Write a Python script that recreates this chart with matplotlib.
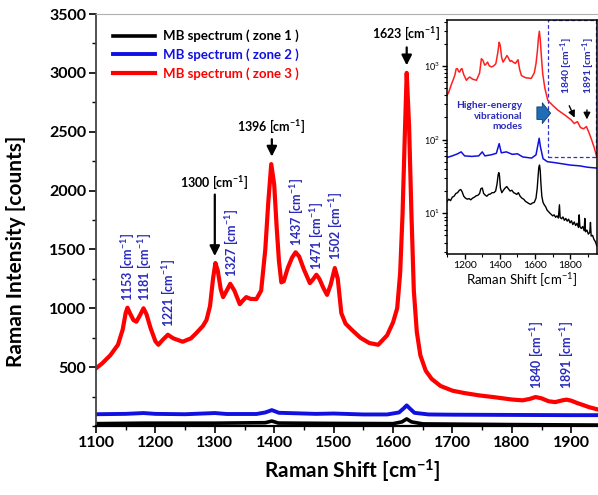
import matplotlib
matplotlib.use("Agg")
import matplotlib.pyplot as plt
from matplotlib.ticker import MultipleLocator, LogLocator, NullFormatter
from matplotlib.patches import Rectangle

plt.rcParams['font.family'] = ['Lato', 'DejaVu Sans']
plt.rcParams['mathtext.fontset'] = 'custom'
plt.rcParams['mathtext.rm'] = 'Lato'
plt.rcParams['mathtext.bf'] = 'Lato:bold'
plt.rcParams['mathtext.it'] = 'Lato:italic'

# ---------------- main plot data ----------------
red_x = [1100, 1110, 1124, 1137, 1145, 1150, 1153, 1157, 1163, 1168, 1174, 1180, 1185, 1192, 1200,
         1205, 1212, 1221, 1230, 1246, 1260, 1269, 1280, 1286, 1292, 1297, 1301, 1305, 1310, 1314,
         1320, 1326, 1333, 1342, 1348, 1353, 1360, 1370, 1378, 1385, 1390, 1395, 1400, 1404, 1408,
         1412, 1416, 1423, 1430, 1436, 1442, 1450, 1460, 1466, 1471, 1476, 1483, 1489, 1495, 1502,
         1507, 1513, 1520, 1531, 1545, 1560, 1575, 1590, 1600, 1607, 1612, 1616, 1620, 1623, 1627,
         1631, 1635, 1640, 1646, 1655, 1665, 1680, 1700, 1720, 1745, 1770, 1800, 1818, 1830, 1840,
         1850, 1862, 1873, 1885, 1892, 1900, 1910, 1920, 1930, 1945]
red_y = [490, 530, 600, 690, 820, 960, 1005, 960, 900, 886, 940, 1000, 950, 830, 720,
         690, 730, 775, 745, 716, 745, 790, 850, 900, 1020, 1250, 1385, 1320, 1160, 1095,
         1150, 1208, 1150, 1035, 1070, 1095, 1080, 1078, 1150, 1500, 1900, 2225, 2050, 1700, 1400,
         1220, 1230, 1345, 1430, 1476, 1440, 1330, 1214, 1250, 1285, 1250, 1170, 1114, 1200, 1342,
         1250, 958, 870, 815, 750, 705, 690, 770, 880, 1000, 1300, 1800, 2500, 3000, 2550,
         1800, 1150, 800, 600, 470, 400, 340, 300, 280, 260, 245, 225, 218, 230, 246,
         235, 210, 203, 218, 224, 215, 195, 178, 160, 140]

blue_x = [1100, 1150, 1180, 1200, 1250, 1300, 1320, 1370, 1385, 1396, 1408, 1437, 1470, 1500, 1550,
          1590, 1610, 1618, 1623, 1628, 1636, 1660, 1700, 1800, 1900, 1945]
blue_y = [100, 103, 110, 103, 100, 110, 102, 102, 115, 135, 112, 108, 103, 106, 98,
          98, 115, 150, 175, 150, 112, 98, 96, 94, 92, 92]

black_x = [1100, 1180, 1300, 1385, 1396, 1407, 1500, 1600, 1615, 1623, 1631, 1650, 1800, 1945]
black_y = [20, 24, 24, 28, 42, 25, 22, 20, 35, 60, 35, 18, 12, 8]

legend_labels = ['MB spectrum ( zone 1 )', 'MB spectrum ( zone 2 )', 'MB spectrum ( zone 3 )']
blue_peak_labels = [1153, 1181, 1221, 1327, 1437, 1471, 1502, 1840, 1891]
blue_peak_label_y = [1065, 1060, 845, 1270, 1527, 1328, 1413, 318, 318]
black_peaks = [1300, 1396, 1623]

# ---------------- inset data ----------------
in_red_x = [1100, 1107, 1125, 1144, 1152, 1159, 1166, 1172, 1179, 1185, 1195, 1210, 1220, 1229, 1245,
            1267, 1285, 1295, 1303, 1314, 1322, 1330, 1340, 1353, 1365, 1377, 1388, 1396, 1402, 1410,
            1418, 1430, 1440, 1447, 1458, 1466, 1475, 1488, 1496, 1503, 1512, 1522, 1545, 1578, 1595,
            1605, 1613, 1619, 1624, 1629, 1635, 1643, 1655, 1672, 1700, 1729, 1770, 1804, 1822, 1840,
            1858, 1875, 1891, 1905, 1920, 1935, 1950]
in_red_y = [410, 421, 560, 740, 910, 916, 840, 824, 900, 916, 760, 637, 680, 706, 660,
            637, 800, 1250, 1200, 1021, 1060, 1125, 1000, 968, 1000, 1070, 1500, 2090, 1900, 1300,
            1125, 1250, 1380, 1300, 1150, 1180, 1125, 1080, 1150, 1210, 900, 740, 690, 676, 800,
            1070, 1600, 2400, 2950, 2300, 1400, 784, 500, 340, 290, 251, 214, 185, 165, 175,
            145, 140, 150, 125, 100, 78, 58]

in_blue_x = [1100, 1130, 1160, 1180, 1200, 1240, 1280, 1300, 1315, 1350, 1380, 1396, 1408, 1437, 1470,
             1500, 1530, 1580, 1605, 1616, 1623, 1630, 1645, 1670, 1700, 1750, 1800, 1850, 1900, 1950]
in_blue_y = [57, 60, 64, 68, 60, 59, 60, 68, 60, 62, 65, 88, 66, 68, 63,
             64, 58, 56, 62, 85, 104, 80, 55, 50, 49, 47, 45, 44, 42, 41]

in_black_x = [1100, 1110, 1120, 1130, 1140, 1150, 1160, 1170, 1178, 1186, 1195, 1205, 1215, 1225, 1235,
              1245, 1255, 1265, 1275, 1285, 1292, 1300, 1308, 1318, 1326, 1336, 1346, 1356, 1366, 1376,
              1384, 1390, 1394, 1398, 1403, 1411, 1420, 1430, 1439, 1448, 1458, 1468, 1478, 1488, 1496,
              1505, 1515, 1525, 1535, 1545, 1555, 1565, 1575, 1585, 1595, 1605, 1612, 1617, 1621, 1625,
              1629, 1633, 1638, 1645, 1652, 1660, 1668, 1676, 1684, 1692, 1700, 1708, 1716, 1724, 1732,
              1738, 1742, 1750, 1758, 1766, 1774, 1782, 1790, 1798, 1806, 1814, 1822, 1830, 1838, 1846,
              1850, 1854, 1862, 1870, 1878, 1882, 1886, 1894, 1902, 1910, 1914, 1918, 1926, 1934, 1942, 1950]
in_black_y = [14.4, 15.5, 14.8, 16.5, 17.0, 18.5, 19.0, 20.5, 21, 19.5, 17, 16, 15.5, 15.8, 15.2,
              16, 16.5, 17.2, 17.5, 18.5, 21.5, 22, 18.5, 17.5, 17, 18, 18.2, 19, 19, 20,
              25, 33, 35.5, 32, 22, 19, 20.5, 22, 23, 21.5, 20, 20.5, 19, 18.5, 18,
              19, 17, 16, 15.5, 14.5, 14, 13.5, 13.2, 13.8, 14, 16, 22, 32, 42, 45,
              38, 25, 17, 14, 13, 12.2, 11, 10.5, 10, 9.6, 9.2, 9.5, 8.8, 9.2, 8.6,
              13, 8.8, 8.4, 8.9, 8.0, 8.5, 7.8, 8.3, 7.4, 7.9, 7.0, 7.6, 6.8, 7.3, 6.4,
              9.5, 6.6, 6.2, 6.6, 5.8, 8.5, 5.6, 5.9, 5.2, 5.5, 7.5, 4.9, 5.0, 4.4, 4.1, 3.6]

BLUE_TXT = '#2b2bbb'

fig = plt.figure(figsize=(5.98, 4.95), dpi=100)
ax = fig.add_axes([0.1605, 0.1394, 0.8395, 0.8323])

l1, = ax.plot(black_x, black_y, color='black', lw=2.6)
l2, = ax.plot(blue_x, blue_y, color='#1010e0', lw=2.8)
l3, = ax.plot(red_x, red_y, color='#ff0000', lw=3.0)

ax.set_xlim(1100, 1945)
ax.set_ylim(0, 3500)
ax.set_xticks(range(1100, 1901, 100))
ax.set_yticks(range(500, 3501, 500))
ax.xaxis.set_minor_locator(MultipleLocator(50))
ax.yaxis.set_minor_locator(MultipleLocator(250))
ax.tick_params(axis='both', which='major', length=5, width=1.2, labelsize=11.5, pad=2)
ax.tick_params(axis='both', which='minor', length=3, width=1.0)
for lab in ax.get_xticklabels() + ax.get_yticklabels():
    lab.set_fontweight('bold')
ax.spines['right'].set_visible(False)
ax.spines['top'].set_color('#b0b0b0')
ax.spines['left'].set_color('#444444')
ax.spines['left'].set_linewidth(1.3)
ax.spines['bottom'].set_linewidth(1.6)

ax.set_ylabel('Raman Intensity [counts]', fontsize=15, fontweight='bold')
ax.yaxis.set_label_coords(-0.14, 0.425)
ax.set_xlabel(r'Raman Shift [cm$^{\mathbf{-1}}$]', fontsize=15, fontweight='bold')
ax.xaxis.set_label_coords(0.51, -0.11)
ax.xaxis.label.set_va('center')

leg = ax.legend([l1, l2, l3], legend_labels, loc='upper left', bbox_to_anchor=(0.034, 0.962),
                frameon=False, handlelength=3.2, handletextpad=0.6, labelspacing=0.45,
                borderpad=0, borderaxespad=0, prop={'weight': 'bold', 'size': 9.5})
for txt, c in zip(leg.get_texts(), ['black', '#1010e0', '#ff0000']):
    txt.set_color(c)

# black annotations with arrows
ann_text_y = [2070, 2549, 3335]
arr_start = [1990, 2460, 3240]
arr_end = [1420, 2265, 3040]
for xp, ty, a0, a1 in zip(black_peaks, ann_text_y, arr_start, arr_end):
    ax.text(xp - 2, ty, str(xp) + r' [cm$^{\mathbf{-1}}$]', ha='center', va='center',
            fontsize=9, fontweight='bold', color='black')
    ax.annotate('', xy=(xp, a1), xytext=(xp, a0),
                arrowprops=dict(arrowstyle='-|>,head_length=0.6,head_width=0.3', lw=1.6, color='black'))

# blue rotated peak labels
for xp, yb in zip(blue_peak_labels, blue_peak_label_y):
    ax.text(xp, yb, str(xp) + r' [cm$^{\mathbf{-1}}$]', rotation=90, ha='center', va='bottom',
            fontsize=9, fontweight='bold', color=BLUE_TXT)

# ---------------- inset ----------------
axin = fig.add_axes([0.7475, 0.487, 0.2505, 0.4727])
axin.semilogy(in_black_x, in_black_y, color='black', lw=1.0)
axin.semilogy(in_blue_x, in_blue_y, color='#1010e0', lw=1.1)
axin.semilogy(in_red_x, in_red_y, color='#ff2020', lw=1.1)
axin.set_xlim(1100, 1950)
axin.set_ylim(2.8, 4200)
axin.set_xticks([1200, 1400, 1600, 1800])
axin.xaxis.set_minor_locator(MultipleLocator(100))
axin.yaxis.set_major_locator(LogLocator(base=10, numticks=10))
axin.yaxis.set_minor_locator(LogLocator(base=10, subs=range(2, 10), numticks=10))
axin.yaxis.set_minor_formatter(NullFormatter())
axin.tick_params(axis='both', which='major', labelsize=7.5, length=3.5, width=1.0, pad=1.5)
axin.tick_params(axis='both', which='minor', length=2, width=0.8)
axin.tick_params(axis='y', labelsize=6.5)
for s in axin.spines.values():
    s.set_linewidth(1.1)
axin.set_xlabel(r'Raman Shift [cm$^{-1}$]', fontsize=9.5, labelpad=1)

axin.add_patch(Rectangle((1675, 58), 1946 - 1675, 4150 - 58, fill=False, ec='#3030d0',
                         ls=(0, (3, 2)), lw=0.9))
axin.annotate('', xy=(1688, 228), xytext=(1610, 228),
              arrowprops=dict(arrowstyle='simple,head_length=0.6,head_width=1.5,tail_width=0.9',
                              fc='#1f6db5', ec='#0d3d70', lw=0.6, mutation_scale=10,
                              shrinkA=0, shrinkB=0))
axin.text(1528, 208, 'Higher-energy\nvibrational\nmodes', ha='right', va='center', fontsize=7.3,
          fontweight='bold', color=BLUE_TXT, linespacing=1.2, multialignment='right')

inset_labels = [1840, 1891]
inset_label_x = [1780, 1902]
for lbx, tx in zip(inset_labels, inset_label_x):
    axin.text(tx, 1000, str(lbx) + r' [cm$^{\mathbf{-1}}$]', rotation=90, ha='center', va='center',
              fontsize=7.5, fontweight='bold', color=BLUE_TXT)
axin.annotate('', xy=(1831, 183), xytext=(1787, 311),
              arrowprops=dict(arrowstyle='-|>,head_length=0.4,head_width=0.2', lw=1.0, color='black'))
axin.annotate('', xy=(1894, 172), xytext=(1894, 275),
              arrowprops=dict(arrowstyle='-|>,head_length=0.4,head_width=0.2', lw=1.0, color='black'))

fig.savefig('out.png', dpi=100)
